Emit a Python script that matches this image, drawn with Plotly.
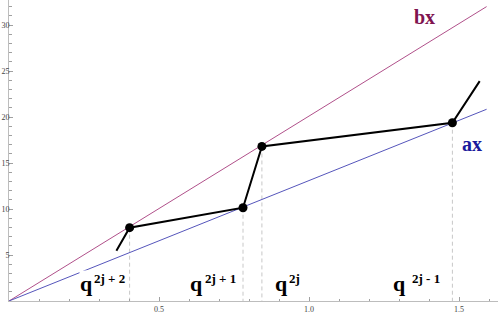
import plotly.graph_objects as go

# ---- data ----
line_x = [0.0, 1.592]
bx_y = [0.0, 32.0]
ax_y = [0.0, 20.84]

path_x = [0.358, 0.402, 0.780, 0.843, 1.478, 1.569]
path_y = [5.47, 7.97, 10.14, 16.80, 19.38, 23.90]

dot_x = [0.402, 0.780, 0.843, 1.478]
dot_y = [7.97, 10.14, 16.80, 19.38]

q_exponents = ["2j + 2", "2j + 1", "2j", "2j - 1"]

x_tickvals = [0.5, 1.0, 1.5]
x_ticktext = ["0.5", "1.0", "1.5"]
y_tickvals = [5, 10, 15, 20, 25, 30]
y_ticktext = ["5", "10", "15", "20", "25", "30"]

# ---- figure ----
W, H = 498, 314
ML, MB = 9, 13
px_per_x = 300.0
px_per_y = 9.2
x_range = [0, (W - ML) / px_per_x]
y_range = [0, (H - MB) / px_per_y]

def px2x(px):
    return (px - ML) / px_per_x

def py2y(py):
    return (H - MB - py) / px_per_y

fig = go.Figure()

# dashed drop lines
drop_x, drop_y = [], []
for xv, yv in zip(dot_x, dot_y):
    drop_x += [xv, xv, None]
    drop_y += [yv, 0, None]
fig.add_trace(go.Scatter(x=drop_x, y=drop_y, mode="lines",
                         line=dict(color="#c8c8c8", width=1, dash="4px,3px"),
                         hoverinfo="skip", showlegend=False))

fig.add_trace(go.Scatter(x=line_x, y=bx_y, mode="lines",
                         line=dict(color="#b0508a", width=1), showlegend=False))
fig.add_trace(go.Scatter(x=line_x, y=ax_y, mode="lines",
                         line=dict(color="#5555bb", width=1), showlegend=False))

fig.add_trace(go.Scatter(x=path_x, y=path_y, mode="lines",
                         line=dict(color="black", width=2), showlegend=False))
fig.add_trace(go.Scatter(x=dot_x, y=dot_y, mode="markers",
                         marker=dict(color="black", size=9), showlegend=False))

serif = "Liberation Serif, Times New Roman, serif"

# q labels: (q left px, sup left px)
q_pos = [(80, 93.3), (190, 204.3), (275, 288.3), (393.3, 411.7)]
q_size, sup_size = 22, 13
q_base, sup_base = 291, 282.5
for i, ((qx, sx), ex) in enumerate(zip(q_pos, q_exponents)):
    fig.add_annotation(x=px2x(qx - 1), y=py2y(q_base - 0.3375 * q_size),
                       xref="x", yref="y", text="<b>q</b>", showarrow=False,
                       xanchor="left", yanchor="middle", borderpad=0,
                       bgcolor="white" if i == 0 else None,
                       font=dict(family=serif, size=q_size, color="black"))
    fig.add_annotation(x=px2x(sx - 0.5), y=py2y(sup_base - 0.3375 * sup_size),
                       xref="x", yref="y", text="<b>" + ex + "</b>", showarrow=False,
                       xanchor="left", yanchor="middle", borderpad=0,
                       font=dict(family=serif, size=sup_size, color="black"))

fig.add_annotation(x=px2x(412.5), y=py2y(24 - 0.3375 * 20), xref="x", yref="y",
                   text="<b>bx</b>", showarrow=False, xanchor="left", yanchor="middle",
                   borderpad=0, font=dict(family=serif, size=20, color="#7f1450"))
fig.add_annotation(x=px2x(460.5), y=py2y(150.7 - 0.3375 * 20), xref="x", yref="y",
                   text="<b>ax</b>", showarrow=False, xanchor="left", yanchor="middle",
                   borderpad=0, font=dict(family=serif, size=20, color="#1a1a9c"))

axis_common = dict(showgrid=False, zeroline=False, showline=True, linecolor="#bdbdbd",
                   linewidth=1, ticks="inside", ticklen=4, tickwidth=1, tickcolor="#a0a0a0",
                   tickfont=dict(family=serif, size=8, color="#444444"),
                   automargin=False, fixedrange=True)

fig.update_xaxes(range=x_range, tickmode="array", tickvals=x_tickvals, ticktext=x_ticktext,
                 minor=dict(ticks="inside", ticklen=2.5, tickcolor="#a0a0a0",
                            tickmode="linear", tick0=0, dtick=0.1),
                 ticklabelstandoff=0,
                 **axis_common)
fig.update_yaxes(range=y_range, tickmode="array", tickvals=y_tickvals, ticktext=y_ticktext,
                 minor=dict(ticks="inside", ticklen=2.5, tickcolor="#a0a0a0",
                            tickmode="linear", tick0=0, dtick=1),
                 ticklabelstandoff=-3,
                 **axis_common)

fig.update_layout(width=W, height=H, margin=dict(l=ML, r=0, t=0, b=MB),
                  paper_bgcolor="white", plot_bgcolor="white", showlegend=False)

fig.write_html("out.html", config={"displayModeBar": False},
               post_script="document.body.style.margin='0px';document.body.style.padding='0px';")
